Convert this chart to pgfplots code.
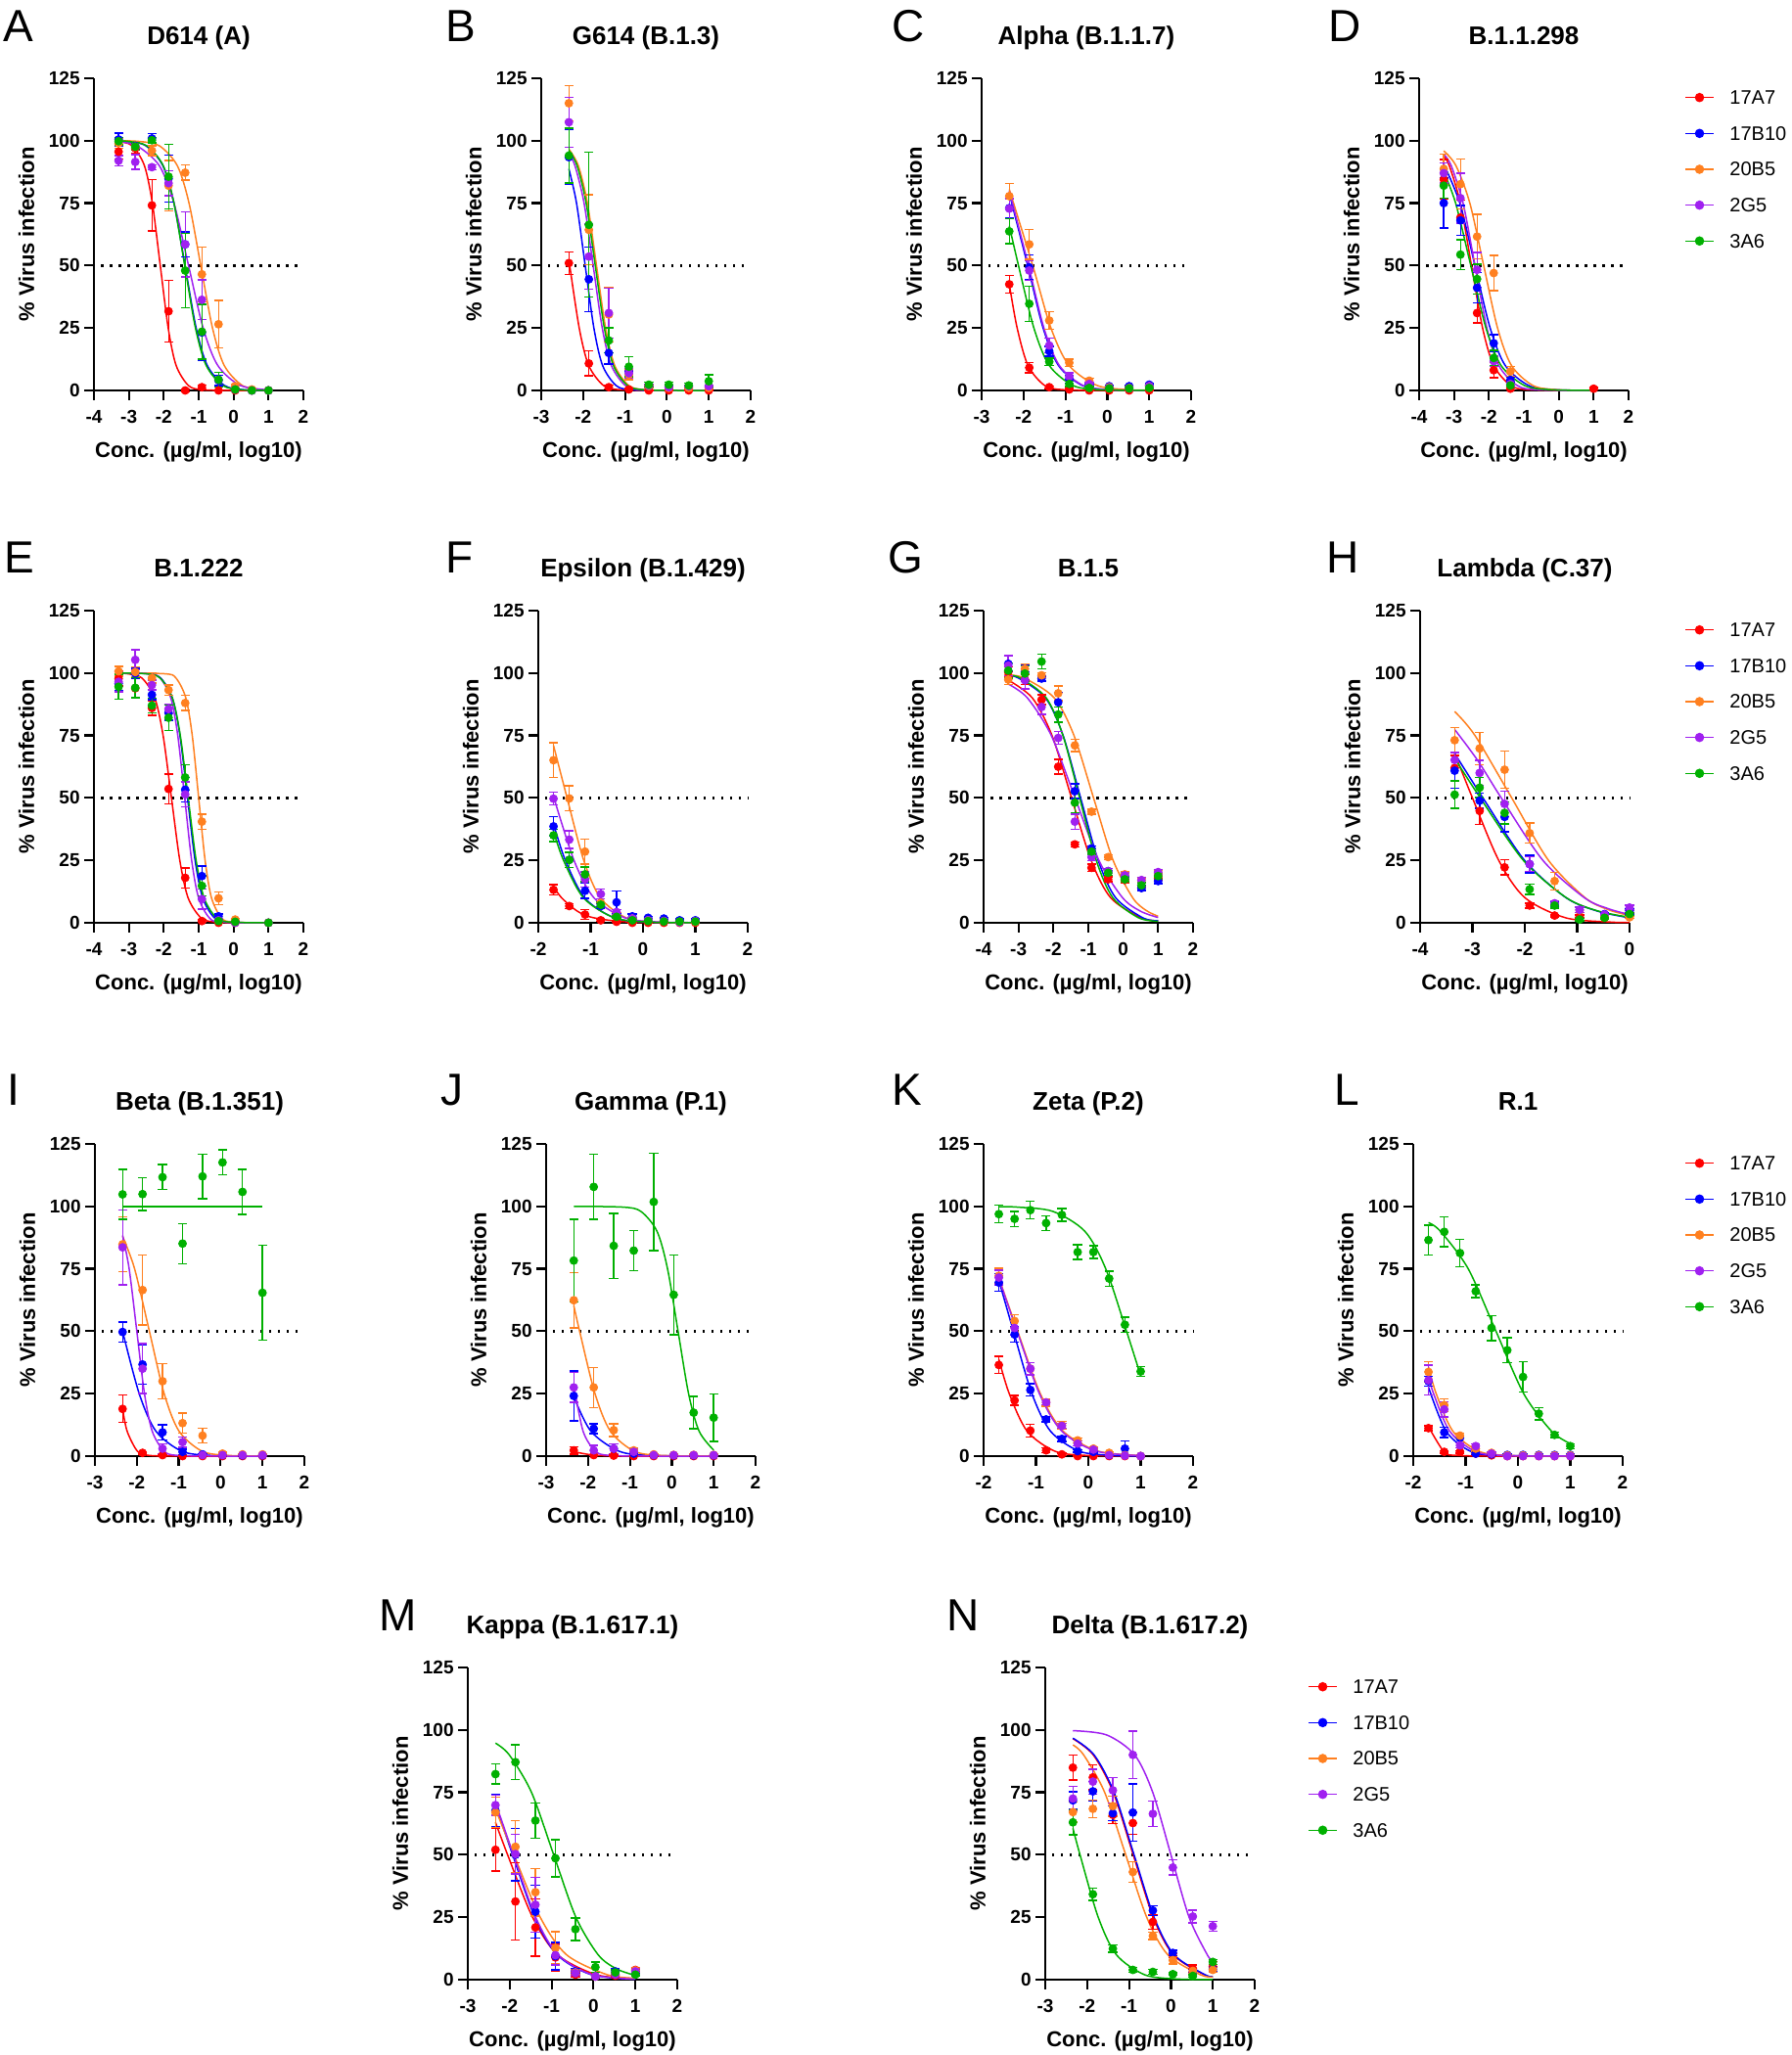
\documentclass[border=0pt]{standalone}
\usepackage{pgfplots}
\usepackage{pgfplotstable}
\pgfplotsset{compat=1.18}
\usepackage{fontspec}
\setmainfont{Liberation Sans}
\definecolor{cR}{RGB}{255,0,0}
\definecolor{cB}{RGB}{0,0,255}
\definecolor{cO}{RGB}{255,128,32}
\definecolor{cP}{RGB}{160,32,240}
\definecolor{cG}{RGB}{0,176,0}
\pgfplotsset{
 gp/.style={anchor=south west, scale only axis, width=107pt, height=159.5pt,
  axis lines=left, axis line style={-, line width=1.1pt, black},
  enlargelimits=false, ymin=0, ymax=125, ytick={0,25,50,75,100,125},
  tick align=outside, major tick length=5pt, tick style={line width=1.1pt, black},
  minor tick num=0, clip=false,
  /pgf/number format/assume math mode=true,
  ticklabel style={font=\fontsize{9.5}{11}\selectfont\bfseries},
  xticklabel style={anchor=base, inner sep=0pt, yshift=-11.85pt},
  yticklabel style={anchor=east, inner sep=0pt, xshift=-2pt},
  title style={font=\fontsize{13}{15}\selectfont\bfseries, at={(0.5,1)}, anchor=base, yshift=11.2pt},
  xlabel={Conc. (µg/ml, log10)}, ylabel={\% Virus infection},
  label style={font=\fontsize{11}{13}\selectfont\bfseries},
  xlabel style={at={(axis description cs:0.5,-0.2144)}, anchor=base},
  ylabel style={at={(axis description cs:-0.3224,0.5)}, anchor=center}},
 crv/.style={no marks, smooth, line width=0.75pt},
 half/.style={black, no marks, line width=1.2pt, dash pattern=on 1.2pt off 3.3pt},
 pts/.style={only marks, mark=*, mark size=2pt, mark options={solid},
  error bars/y dir=both, error bars/y explicit,
  error bars/error bar style={line width=0.7pt, solid},
  error bars/error mark options={rotate=90, mark size=2.3pt, line width=0.7pt}},
}
\newcommand\pts[1]{%
 \addplot[pts,cR] table[x=x,y=r,y error=re]{#1};
 \addplot[pts,cB] table[x=x,y=b,y error=be]{#1};
 \addplot[pts,cO] table[x=x,y=o,y error=oe]{#1};
 \addplot[pts,cP] table[x=x,y=p,y error=pe]{#1};
 \addplot[pts,cG] table[x=x,y=g,y error=ge]{#1};}
\newcommand\half[2]{\addplot[half] coordinates {(#1,50) (#2,50)};}
\newcommand\lgd[2]{%
 \begin{axis}[at={(#1,#2)}, anchor=south west, scale only axis, width=14.5pt, height=73.3pt,
   xmin=0, xmax=1, ymin=1, ymax=5, hide axis, clip=false]
 \addplot[cR, line width=0.75pt, mark=*, mark size=2pt, mark indices={2}] coordinates {(0,5) (0.5,5) (1,5)};
 \addplot[cB, line width=0.75pt, mark=*, mark size=2pt, mark indices={2}] coordinates {(0,4) (0.5,4) (1,4)};
 \addplot[cO, line width=0.75pt, mark=*, mark size=2pt, mark indices={2}] coordinates {(0,3) (0.5,3) (1,3)};
 \addplot[cP, line width=0.75pt, mark=*, mark size=2pt, mark indices={2}] coordinates {(0,2) (0.5,2) (1,2)};
 \addplot[cG, line width=0.75pt, mark=*, mark size=2pt, mark indices={2}] coordinates {(0,1) (0.5,1) (1,1)};
 \node[anchor=west, inner sep=0pt, xshift=8pt, font=\fontsize{10}{12}\selectfont] at (axis cs:1,5) {17A7};
 \node[anchor=west, inner sep=0pt, xshift=8pt, font=\fontsize{10}{12}\selectfont] at (axis cs:1,4) {17B10};
 \node[anchor=west, inner sep=0pt, xshift=8pt, font=\fontsize{10}{12}\selectfont] at (axis cs:1,3) {20B5};
 \node[anchor=west, inner sep=0pt, xshift=8pt, font=\fontsize{10}{12}\selectfont] at (axis cs:1,2) {2G5};
 \node[anchor=west, inner sep=0pt, xshift=8pt, font=\fontsize{10}{12}\selectfont] at (axis cs:1,1) {3A6};
 \end{axis}}
\newcommand\letter[3]{\node[anchor=north west, inner sep=0pt, font=\fontsize{23}{23}\selectfont] at (#1,#2) {#3};}

\pgfplotstableread{
x r re b be o oe p pe g ge
-3.294 95.6 3 100.5 2.5 99 2 92 2 99.8 1.5
-2.817 97 2 97.9 1.5 97.6 1.5 91.5 3 97.6 1.5
-2.340 74.1 10.3 100.9 2 96 2 89.4 1 100.2 1
-1.863 31.7 12.4 84.8 9.4 82 10 83 5 85.6 13
-1.386 0 0.5 58.5 5 87.2 3 58.5 13 48 15
-0.908 1.3 0.8 23.2 11 46.5 11 36.3 8 23.5 11
-0.431 0 0.3 4 2 26.5 9.5 4.3 3 4.3 3
0.046 0 0 0.4 0.3 1.7 0.8 0.4 0.3 0.4 0.3
0.523 0 0 0 0 0.4 0.3 0 0 0 0
1.000 0 0 0 0 0 0 0 0 0 0
}\tA
\pgfplotstableread{
x r re b be o oe p pe g ge
-2.340 51 4.5 93.4 11 115 7 107.4 10 94 11
-1.863 10.8 5 44.5 13 64.3 14 53.6 13 66.3 29
-1.386 1.3 0.8 15 4.5 30.4 11 31 10 20 5
-0.908 0.4 0.3 7.6 2 6.3 2 6.9 2 9.5 4
-0.431 0 0 1.7 0.5 1.7 0.5 2 0.5 2.3 1
0.046 0 0 1.4 0.5 1 0.5 1.3 0.5 2.3 1
0.523 0 0 1.7 0.5 1 0.5 1.7 0.5 2 1
1.000 0 0 1.4 0.5 1 0.5 1.7 0.5 3.7 2.5
}\tB
\pgfplotstableread{
x r re b be o oe p pe g ge
-2.340 42.5 3.5 73 4 77.8 5 72.8 4 63.7 5
-1.863 9.1 2 49.3 5 58.5 6 48 4 34.7 7
-1.386 1.3 0.5 15.7 2 28 3.5 18 3 11.5 1.5
-0.908 0.4 0.3 4.5 1.5 11.1 1.5 5.6 1.5 2.6 1
-0.431 0 0 2.3 0.5 3.9 1 2.6 0.5 1 0.5
0.046 0 0 1.7 0.5 1.3 0.5 1 0.5 0.8 0.5
0.523 0 0 1.7 0.5 1 0.5 0.8 0.5 0.8 0.5
1.000 0 0 2.3 0.5 1.7 0.5 1.7 0.5 1 0.5
}\tC
\pgfplotstableread{
x r re b be o oe p pe g ge
-3.294 84.5 8 75 10 88.7 6 87 4 82 5
-2.817 69.2 7 68.1 6 82.6 10 77 10 54.4 6
-2.340 31 4 41.1 6 61.6 9 48.3 7 44.6 6
-1.863 8.1 3 18.9 3.5 47 7 11.7 2 13 3
-1.386 0.7 0.5 4.2 1 7.6 2 2.6 1 2 1
1.000 0.7 0.5 nan 0 nan 0 nan 0 nan 0
}\tD
\pgfplotstableread{
x r re b be o oe p pe g ge
-3.294 97.8 3 95.8 3 100.7 2 96.5 4 94.5 5
-2.817 93.9 4 99.8 2 100.4 2 105.3 4 94.1 4
-2.340 86 3 91.3 2 98 2 95.2 2 87 3
-1.863 53.6 6 84.1 3 93.2 2 85.6 2 82.1 5
-1.386 18 4 53.3 5 88 3 51.4 5 58.2 5
-0.908 0.7 0.5 18.7 4 40.5 3 9.5 4 14.8 4
-0.431 0 0 2.6 1 9.8 2.5 1 0.5 0.7 0.5
0.046 0 0 0.4 0.3 1.3 0.5 0 0 0.4 0.3
1.000 0 0 0 0 0 0 0 0 0 0
}\tE
\pgfplotstableread{
x r re b be o oe p pe g ge
-1.709 13.2 2 38.6 4 65.1 7 49.7 2.5 35 2.5
-1.408 6.7 1 25.2 3 49.8 5 33.3 3.5 25.2 3
-1.107 3.3 2 12.8 3 28.5 5 17.4 3 19.4 3
-0.806 1 0.5 6.7 1 8 1.5 11.5 2 7.2 1
-0.505 0.4 0.3 8.2 4.5 3 1 4.3 1 2.4 0.5
-0.204 0 0 2.6 1 1.7 0.5 1.7 0.5 1 0.5
0.097 0 0 2 0.5 1 0.5 1 0.5 0.7 0.3
0.398 0 0 1.7 0.5 0.7 0.3 0.7 0.3 0.5 0.3
0.699 0 0 1 0.5 0.4 0.3 0.2 0.2 0.5 0.3
1.000 0 0 1 0.5 0.4 0.3 0.7 0.3 0.5 0.3
}\tF
\pgfplotstableread{
x r re b be o oe p pe g ge
-3.294 100.4 2 103.7 3 97.4 2 103 4 101 3
-2.817 97.4 2 100.4 3 101.7 2 97.1 3.5 99.8 3
-2.340 89.3 2 97.8 1 99.1 1 86.4 3 104.6 3
-1.863 62.5 3 88.3 4 91.9 3 74 2.5 83.4 3
-1.386 31.4 1 52.7 3 71 2.5 40.5 3 48.1 4
-0.908 22 1.5 29.8 1 44.5 1 26.3 1.5 28.5 1
-0.431 17.4 1 20.7 1 26.3 1 20.7 1 20 1
0.046 17.1 1 18.7 1 19.4 1 19 1 17.4 1
0.523 14.1 1 13.9 1 17 1 17.1 1 15 1
1.000 18 1 16.7 1 20 1 20.3 1 18.7 1
}\tG
\pgfplotstableread{
x r re b be o oe p pe g ge
-3.340 62 5 60.9 7 73.1 5 65.2 3 51.3 5.5
-2.863 44.8 5.5 48.9 3 69.8 6.5 60 5 54.1 4
-2.386 22.2 3 42.4 6 61.3 7.5 47.6 5 44 4.5
-1.908 6.9 1 23.5 3.5 35.9 4 23.5 3 13.4 2
-1.431 2.9 0.5 7.4 1 16.7 3.5 7.8 1 6.9 1
-0.954 2.6 0.5 5.2 1 5 1 5.2 1 1.3 0.5
-0.477 2.2 0.5 3.5 0.5 2.6 0.5 3.3 0.5 2 0.5
0.000 3.9 1 4.6 1 2.2 0.5 6.1 1 3.5 0.5
}\tH
\pgfplotstableread{
x r re b be o oe p pe g ge
-2.340 18.9 5.5 49.7 4 84.8 11 83.6 15 104.8 10
-1.863 1.3 0.5 36.7 8 66.5 14 35 10 104.9 6.5
-1.386 0.4 0.3 9.5 3 30 7 3 2 111.7 5
-0.908 0 0 1.7 1 13.2 4 5.6 2 85.1 8
-0.431 0 0 0.7 0.3 8.2 3 0.4 0.3 112 9
0.046 0 0 0.4 0.3 1 0.5 0.4 0.3 117.6 5
0.523 0 0 0.3 0.3 0.7 0.3 0.4 0.3 105.8 9
1.000 0 0 0.3 0.3 0.7 0.3 0.4 0.3 65.4 19
}\tI
\pgfplotstableread{
x r re b be o oe p pe g ge
-2.340 2.3 1.5 24.1 10 62.4 11 27.5 6 78.3 16.5
-1.863 0.4 0.3 11 2 27.5 8 2.3 2 107.8 13
-1.386 0.2 0.2 3 2 10.4 2.5 3 2 84.2 13
-0.908 0 0 1 0.5 2.3 1 1.7 1 82.3 8
-0.431 0 0 0.4 0.3 0.7 0.3 0.4 0.3 101.8 19.5
0.046 0 0 0.3 0.3 0.5 0.3 0.4 0.3 64.6 16
0.523 0 0 0.3 0.3 0.5 0.3 0.4 0.3 17.4 6.5
1.000 0 0 0.3 0.3 0.5 0.3 0.4 0.3 15.4 9.5
}\tJ
\pgfplotstableread{
x r re b be o oe p pe g ge
-1.709 36.5 3.5 69.5 3.5 72.2 3 71.5 3 96.9 3.5
-1.408 22.3 2 48.7 3 54.1 2.5 51.3 3 95 3
-1.107 10.2 2.5 26.5 2.5 35 2.5 35 2.5 98.5 3.5
-0.806 2.3 1 14.7 1 21.5 1.5 21.5 1 93.3 3
-0.505 0.7 0.5 6.9 1 12.4 1.5 12.1 1 96.6 2.5
-0.204 0 0 2 0.5 6.3 1 5 1 81.7 3
0.097 0 0 1.7 0.5 3 0.5 2.6 0.5 81.7 2.5
0.398 0 0 0.4 0.3 1.3 0.5 0.4 0.3 71.1 3
0.699 0 0 3 3 0.4 0.3 0.2 0.2 52.6 3
1.000 0 0 0 0 0 0 0 0 33.9 2
}\tK
\pgfplotstableread{
x r re b be o oe p pe g ge
-1.709 11.2 1 30 2 33.7 4 30.4 6 86.5 6
-1.408 1.7 0.5 9.5 2 20.4 2.5 18.7 3 89.8 6
-1.107 1.7 0.5 7.3 2 8.2 1 4.3 1 81.3 5.5
-0.806 1 0.5 1 0.5 3 1 4 1 66 2.5
-0.505 0.3 0.3 0.7 0.3 1.3 0.5 1 0.5 51.3 5
-0.204 0 0 0.5 0.3 0.3 0.3 0 0 42.4 5
0.097 0 0 0.5 0.3 0.3 0.3 0 0 31.7 6
0.398 0 0 0.5 0.3 0.3 0.3 0 0 17 2.5
0.699 0 0 0.5 0.3 0.3 0.3 0 0 8.5 1
1.000 0 0 0.5 0.3 0.3 0.3 0 0 4 1
}\tL
\pgfplotstableread{
x r re b be o oe p pe g ge
-2.340 52 8.5 67.7 6.5 67 6 69.9 4 82.3 4
-1.863 31.3 15.5 50 10.5 53.2 10.5 50.3 8 87.1 7
-1.386 20.9 11.5 27.2 10.5 35 9.5 30 11 63.7 7
-0.908 8.9 5.5 9.4 5.5 12.7 6.5 9.8 4 48.6 7.5
-0.431 2 1 3.3 1 2.9 1 2.6 1 20.2 4.5
0.046 1.3 0.5 1.3 0.5 1.3 0.5 1.3 0.5 5 2
0.523 1.6 0.5 3.3 1 2.2 0.5 2 0.5 2.9 1
1.000 3.9 1 2.6 0.5 3.7 1 3.3 1 2 0.5
}\tM
\pgfplotstableread{
x r re b be o oe p pe g ge
-2.340 84.9 5 71.8 3.5 67.1 4 72.5 5 63 5
-1.863 81 5 75.4 4 68.4 3.5 79.3 5 34.2 2.5
-1.386 66 3.5 66.6 3 69.5 4 75.8 5 12.4 1.5
-0.908 62.7 4.5 66.9 11.5 43.1 4 90 9.5 3.9 1
-0.431 23.1 3 27.7 2 17.5 1.5 66.4 5 3.1 1
0.046 10.4 1.5 10.7 1 7.8 1.5 44.9 3 2.2 0.5
0.523 4.4 1.5 3.1 1 3.5 1 25.3 2.5 1.5 0.5
1.000 5.2 2 4.2 1 3.9 1 21.4 2 7.1 1
}\tN

\begin{document}
\begin{tikzpicture}
\useasboundingbox (0,0) rectangle (915.5pt,1050pt);

% ---------- Row 1 ----------
\begin{axis}[gp, at={(48pt,850.5pt)}, xmin=-4, xmax=2, xtick={-4,-3,...,2}, title={D614 (A)}]
\half{-3.8}{2}
\addplot[crv,cR] coordinates {(-3.294,99.7) (-2.905,98) (-2.554,90) (-2.327,75) (-2.1,50) (-1.873,25) (-1.646,10) (-1.295,2) (-0.91,0.3) (0,0) (1,0)};
\addplot[crv,cB] coordinates {(-3.294,99.9) (-3.057,99.7) (-2.517,98) (-2.026,90) (-1.708,75) (-1.39,50) (-1.072,25) (-0.754,10) (-0.263,2) (0.277,0.3) (1,0)};
\addplot[crv,cO] coordinates {(-3.294,100) (-2.701,99.7) (-2.13,98) (-1.612,90) (-1.276,75) (-0.94,50) (-0.604,25) (-0.268,10) (0.25,2) (0.821,0.3) (1,0.2)};
\addplot[crv,cP] coordinates {(-3.294,99.5) (-2.772,98) (-2.127,90) (-1.708,75) (-1.29,50) (-0.872,25) (-0.453,10) (0.192,2) (1,0.24)};
\addplot[crv,cG] coordinates {(-3.294,99.9) (-3.013,99.7) (-2.49,98) (-2.015,90) (-1.708,75) (-1.4,50) (-1.092,25) (-0.785,10) (-0.31,2) (0.213,0.3) (1,0)};
\pts\tA
\end{axis}
\begin{axis}[gp, at={(276.5pt,850.5pt)}, xmin=-3, xmax=2, xtick={-3,-2,...,2}, title={G614 (B.1.3)}]
\half{-2.835}{2}
\addplot[crv,cR] coordinates {(-2.34,52.4) (-2.093,25) (-1.866,10) (-1.515,2) (-1.13,0.3) (0,0) (1,0)};
\addplot[crv,cB] coordinates {(-2.34,88.7) (-2.157,75) (-1.95,50) (-1.743,25) (-1.535,10) (-1.215,2) (-0.863,0.3) (0,0) (1,0)};
\addplot[crv,cO] coordinates {(-2.34,96.6) (-2.114,90) (-1.897,75) (-1.68,50) (-1.463,25) (-1.246,10) (-0.912,2) (-0.544,0.3) (0.2,0) (1,0)};
\addplot[crv,cP] coordinates {(-2.34,95) (-2.194,90) (-1.977,75) (-1.76,50) (-1.543,25) (-1.326,10) (-0.992,2) (-0.624,0.3) (0.2,0) (1,0)};
\addplot[crv,cG] coordinates {(-2.34,96) (-2.144,90) (-1.927,75) (-1.71,50) (-1.493,25) (-1.276,10) (-0.942,2) (-0.574,0.3) (0.2,0) (1,0)};
\pts\tB
\end{axis}
\begin{axis}[gp, at={(501.5pt,850.5pt)}, xmin=-3, xmax=2, xtick={-3,-2,...,2}, title={Alpha (B.1.1.7)}]
\half{-2.835}{2}
\addplot[crv,cR] coordinates {(-2.34,42.6) (-2.152,25) (-1.894,10) (-1.497,2) (-1.059,0.3) (0,0) (1,0)};
\addplot[crv,cB] coordinates {(-2.34,78.9) (-1.9,50) (-1.533,25) (-1.166,10) (-0.6,2) (0.023,0.3) (1,0)};
\addplot[crv,cO] coordinates {(-2.34,80.5) (-1.78,50) (-1.346,25) (-0.913,10) (-0.244,2) (0.493,0.3) (1,0.1)};
\addplot[crv,cP] coordinates {(-2.34,79.9) (-1.88,50) (-1.513,25) (-1.146,10) (-0.58,2) (0.043,0.3) (1,0)};
\addplot[crv,cG] coordinates {(-2.34,65.9) (-2.12,50) (-1.753,25) (-1.386,10) (-0.82,2) (-0.197,0.3) (1,0)};
\pts\tC
\end{axis}
\begin{axis}[gp, at={(725pt,850.5pt)}, xmin=-4, xmax=2, xtick={-4,-3,...,2}, title={B.1.1.298}]
\half{-3.8}{2}
\addplot[crv,cR] coordinates {(-3.294,93.9) (-3.136,90) (-2.818,75) (-2.5,50) (-2.182,25) (-1.864,10) (-1.373,2) (-0.833,0.3) (1,0)};
\addplot[crv,cB] coordinates {(-3.294,90.6) (-2.834,75) (-2.4,50) (-1.966,25) (-1.533,10) (-0.864,2) (-0.127,0.3) (1,0)};
\addplot[crv,cO] coordinates {(-3.294,95.9) (-2.945,90) (-2.547,75) (-2.15,50) (-1.753,25) (-1.355,10) (-0.742,2) (-0.067,0.3) (1,0)};
\addplot[crv,cP] coordinates {(-3.294,94.6) (-3.081,90) (-2.741,75) (-2.4,50) (-2.059,25) (-1.719,10) (-1.193,2) (-0.615,0.3) (1,0)};
\addplot[crv,cG] coordinates {(-3.294,87.5) (-2.954,75) (-2.52,50) (-2.086,25) (-1.653,10) (-0.984,2) (-0.247,0.3) (1,0)};
\pts\tD
\end{axis}
\lgd{861pt}{926.85pt}

% ---------- Row 2 ----------
\begin{axis}[gp, at={(48pt,578.5pt)}, xmin=-4, xmax=2, xtick={-4,-3,...,2}, title={B.1.222}]
\half{-3.8}{2}
\addplot[crv,cR] coordinates {(-3.294,99.9) (-3.03,99.7) (-2.625,98) (-2.257,90) (-2.019,75) (-1.78,50) (-1.541,25) (-1.303,10) (-0.935,2) (-0.53,0.3) (0.3,0) (1,0)};
\addplot[crv,cB] coordinates {(-3.294,100) (-2.456,99.7) (-2.088,98) (-1.754,90) (-1.537,75) (-1.32,50) (-1.103,25) (-0.886,10) (-0.552,2) (-0.184,0.3) (1,0)};
\addplot[crv,cO] coordinates {(-3.294,100) (-1.962,99.7) (-1.65,98) (-1.367,90) (-1.184,75) (-1.0,50) (-0.816,25) (-0.633,10) (-0.35,2) (-0.038,0.3) (1,0)};
\addplot[crv,cP] coordinates {(-3.294,100) (-2.442,99.7) (-2.104,98) (-1.798,90) (-1.599,75) (-1.4,50) (-1.201,25) (-1.002,10) (-0.696,2) (-0.358,0.3) (1,0)};
\addplot[crv,cG] coordinates {(-3.294,100) (-2.49,99.7) (-2.105,98) (-1.754,90) (-1.527,75) (-1.3,50) (-1.073,25) (-0.846,10) (-0.495,2) (-0.11,0.3) (1,0)};
\pts\tE
\end{axis}
\begin{axis}[gp, at={(275pt,578.5pt)}, xmin=-2, xmax=2, xtick={-2,-1,...,2}, title={Epsilon (B.1.429)}]
\half{-1.87}{2}
\addplot[crv,cR] coordinates {(-1.709,14.5) (-1.555,10) (-1.25,4.6) (-0.942,2) (-0.267,0.3) (1,0)};
\addplot[crv,cB] coordinates {(-1.709,39.6) (-1.483,25) (-1.116,10) (-0.55,2) (0.073,0.3) (1,0)};
\addplot[crv,cO] coordinates {(-1.709,71) (-1.45,50) (-1.132,25) (-0.814,10) (-0.323,2) (0.217,0.3) (1,0)};
\addplot[crv,cP] coordinates {(-1.709,50.6) (-1.318,25) (-0.937,10) (-0.348,2) (0.3,0.3) (1,0.1)};
\addplot[crv,cG] coordinates {(-1.709,36.6) (-1.518,25) (-1.137,10) (-0.548,2) (0.1,0.3) (1,0)};
\pts\tF
\end{axis}
\begin{axis}[gp, at={(502.5pt,578.5pt)}, xmin=-4, xmax=2, xtick={-4,-3,...,2}, title={B.1.5}]
\half{-3.8}{2}
\addplot[crv,cR] coordinates {(-3.294,97.2) (-2.602,90) (-2.041,75) (-1.48,50) (-0.919,25) (-0.358,10) (0.508,2) (1,0.8)};
\addplot[crv,cB] coordinates {(-3.294,98.9) (-3.0,98) (-2.224,90) (-1.722,75) (-1.22,50) (-0.718,25) (-0.216,10) (0.559,2) (1,0.8)};
\addplot[crv,cO] coordinates {(-3.294,99.2) (-2.838,98) (-1.972,90) (-1.411,75) (-0.85,50) (-0.289,25) (0.272,10) (0.65,5) (1,2.6)};
\addplot[crv,cP] coordinates {(-3.294,95.6) (-2.743,90) (-2.062,75) (-1.38,50) (-0.698,25) (-0.017,10) (0.5,4.6) (1,2.1)};
\addplot[crv,cG] coordinates {(-3.294,99.1) (-2.94,98) (-2.204,90) (-1.727,75) (-1.25,50) (-0.773,25) (-0.296,10) (0.44,2) (1,0.6)};
\pts\tG
\end{axis}
\begin{axis}[gp, at={(725.5pt,578.5pt)}, xmin=-4, xmax=0, xtick={-4,-3,...,0}, title={Lambda (C.37)}]
\half{-3.87}{0}
\addplot[crv,cR] coordinates {(-3.34,67.8) (-3.0,50) (-2.498,25) (-1.996,10) (-1.221,2) (-0.37,0.3) (0,0.1)};
\addplot[crv,cB] coordinates {(-3.34,67.8) (-2.8,50) (-2.005,25) (-1.21,10) (-0.6,4.6) (0,2.0)};
\addplot[crv,cO] coordinates {(-3.34,84.6) (-2.952,75) (-2.25,50) (-1.548,25) (-0.847,10) (-0.4,5.2) (0,2.9)};
\addplot[crv,cP] coordinates {(-3.34,77.4) (-2.9,65) (-2.45,50) (-1.655,25) (-0.86,10) (-0.4,5.6) (0,3.3)};
\addplot[crv,cG] coordinates {(-3.34,65.8) (-2.85,50) (-2.028,25) (-1.205,10) (-0.6,4.7) (0,2.2)};
\pts\tH
\end{axis}
\lgd{861pt}{654.85pt}

% ---------- Row 3 ----------
\begin{axis}[gp, at={(48.5pt,306pt)}, xmin=-3, xmax=2, xtick={-3,-2,...,2}, title={Beta (B.1.351)}]
\half{-2.835}{2}
\addplot[crv,cR] coordinates {(-2.34,19) (-2.232,10) (-1.987,2) (-1.717,0.3) (-1,0) (1,0)};
\addplot[crv,cB] coordinates {(-2.34,50) (-1.943,25) (-1.545,10) (-0.932,2) (-0.257,0.3) (1,0)};
\addplot[crv,cO] coordinates {(-2.34,88) (-2.053,75) (-1.7,50) (-1.347,25) (-0.993,10) (-0.448,2) (0.152,0.3) (1,0)};
\addplot[crv,cP] coordinates {(-2.34,88.4) (-2.183,75) (-2.0,50) (-1.817,25) (-1.633,10) (-1.35,2) (-1.038,0.3) (0,0) (1,0)};
\addplot[no marks, line width=0.75pt, cG] coordinates {(-2.34,100) (1,100)};
\pts\tI
\end{axis}
\begin{axis}[gp, at={(279pt,306pt)}, xmin=-3, xmax=2, xtick={-3,-2,...,2}, title={Gamma (P.1)}]
\half{-2.835}{2}
\addplot[crv,cR] coordinates {(-2.34,1.8) (-1.86,0.4) (-1,0) (1,0)};
\addplot[crv,cB] coordinates {(-2.34,23.8) (-1.933,10) (-1.264,2) (-0.527,0.3) (1,0)};
\addplot[crv,cO] coordinates {(-2.34,60.3) (-2.2,50) (-1.833,25) (-1.466,10) (-0.9,2) (-0.277,0.3) (1,0)};
\addplot[crv,cP] coordinates {(-2.34,28.5) (-2.118,10) (-1.824,2) (-1.5,0.3) (-0.5,0) (1,0)};
\addplot[crv,cG] coordinates {(-2.34,100) (-1.166,99.7) (-0.739,98) (-0.352,90) (-0.101,75) (0.15,50) (0.401,25) (0.652,10) (1,2.4)};
\pts\tJ
\end{axis}
\begin{axis}[gp, at={(502.5pt,306pt)}, xmin=-2, xmax=2, xtick={-2,-1,...,2}, title={Zeta (P.2)}]
\half{-1.87}{2}
\addplot[crv,cR] coordinates {(-1.709,38.8) (-1.51,25) (-1.169,10) (-0.643,2) (-0.065,0.3) (1,0)};
\addplot[crv,cB] coordinates {(-1.709,70.4) (-1.43,50) (-1.077,25) (-0.723,10) (-0.178,2) (0.422,0.3) (1,0)};
\addplot[crv,cO] coordinates {(-1.709,71.3) (-1.35,50) (-0.916,25) (-0.483,10) (0.186,2) (1,0.25)};
\addplot[crv,cP] coordinates {(-1.709,71.1) (-1.36,50) (-0.934,25) (-0.508,10) (0.149,2) (1,0.2)};
\addplot[crv,cG] coordinates {(-1.709,99.9) (-1.353,99.7) (-0.678,98) (-0.065,90) (0.333,75) (0.73,50) (1,32.2)};
\pts\tK
\end{axis}
\begin{axis}[gp, at={(722pt,306pt)}, xmin=-2, xmax=2, xtick={-2,-1,...,2}, title={R.1}]
\half{-1.87}{2}
\addplot[crv,cR] coordinates {(-1.709,11.8) (-1.408,1.6) (-1.167,0.3) (-0.5,0) (1,0)};
\addplot[crv,cB] coordinates {(-1.709,27.6) (-1.374,10) (-0.914,2) (-0.408,0.3) (1,0)};
\addplot[crv,cO] coordinates {(-1.709,35.7) (-1.562,25) (-1.244,10) (-0.753,2) (-0.213,0.3) (1,0)};
\addplot[crv,cP] coordinates {(-1.709,32) (-1.612,25) (-1.305,10) (-0.83,2) (-0.307,0.3) (1,0)};
\addplot[crv,cG] coordinates {(-1.709,93.5) (-1.48,90) (-0.95,75) (-0.42,50) (0.11,25) (0.64,10) (1,5)};
\pts\tL
\end{axis}
\lgd{861pt}{382.35pt}

% ---------- Row 4 ----------
\begin{axis}[gp, at={(239pt,38.5pt)}, xmin=-3, xmax=2, xtick={-3,-2,...,2}, title={Kappa (B.1.617.1)}]
\half{-2.835}{2}
\addplot[crv,cR] coordinates {(-2.34,63) (-2.05,50) (-1.454,25) (-0.858,10) (0.063,2) (1,0.4)};
\addplot[crv,cB] coordinates {(-2.34,70) (-1.93,50) (-1.4,25) (-0.87,10) (-0.052,2) (1,0.2)};
\addplot[crv,cO] coordinates {(-2.34,68.3) (-1.9,50) (-1.272,25) (-0.645,10) (0.324,2) (1,0.6)};
\addplot[crv,cP] coordinates {(-2.34,70.9) (-1.91,50) (-1.38,25) (-0.85,10) (-0.032,2) (1,0.2)};
\addplot[crv,cG] coordinates {(-2.34,94.7) (-2.01,90) (-1.48,75) (-0.95,50) (-0.42,25) (0.11,10) (0.55,4.3) (1,1.7)};
\pts\tM
\end{axis}
\begin{axis}[gp, at={(534pt,38.5pt)}, xmin=-3, xmax=2, xtick={-3,-2,...,2}, title={Delta (B.1.617.2)}]
\half{-2.835}{2}
\addplot[crv,cR] coordinates {(-2.34,96.5) (-1.854,90) (-1.377,75) (-0.9,50) (-0.423,25) (0.054,10) (0.79,2) (1,1.2)};
\addplot[crv,cB] coordinates {(-2.34,96.7) (-1.834,90) (-1.357,75) (-0.88,50) (-0.403,25) (0.074,10) (0.81,2) (1,1.3)};
\addplot[crv,cO] coordinates {(-2.34,94) (-2.084,90) (-1.582,75) (-1.08,50) (-0.578,25) (-0.076,10) (0.699,2) (1,1.0)};
\addplot[crv,cP] coordinates {(-2.34,99.7) (-1.536,98) (-0.867,90) (-0.434,75) (0,50) (0.434,25) (0.867,10) (1,7.5)};
\addplot[crv,cG] coordinates {(-2.34,60.6) (-2.17,50) (-1.736,25) (-1.303,10) (-0.634,2) (0.103,0.3) (1,0)};
\pts\tN
\end{axis}
\lgd{668.5pt}{114.85pt}

% ---------- Panel letters ----------
\letter{1.5pt}{1045pt}{A}
\letter{227.5pt}{1045pt}{B}
\letter{455.5pt}{1045pt}{C}
\letter{678.5pt}{1045pt}{D}
\letter{2pt}{773.5pt}{E}
\letter{227.5pt}{773.5pt}{F}
\letter{453.5pt}{773.5pt}{G}
\letter{677.5pt}{773.5pt}{H}
\letter{3.5pt}{501.5pt}{I}
\letter{225pt}{501.5pt}{J}
\letter{455.5pt}{501.5pt}{K}
\letter{681.5pt}{501.5pt}{L}
\letter{193.5pt}{233pt}{M}
\letter{483.5pt}{233pt}{N}
\end{tikzpicture}
\end{document}
